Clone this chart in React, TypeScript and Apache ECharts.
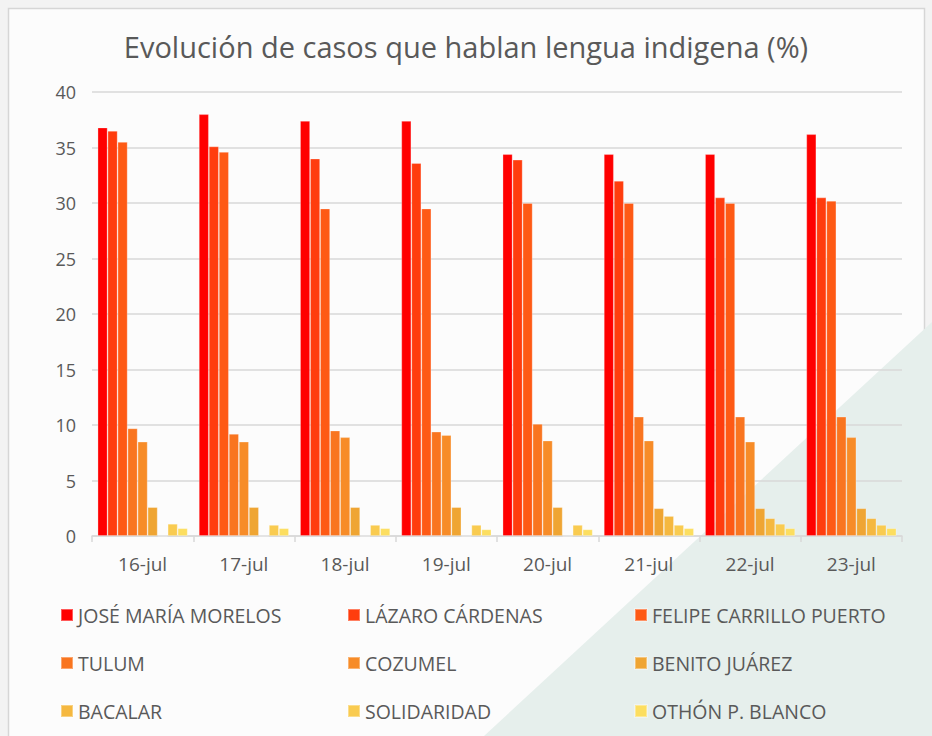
import React, { useEffect, useRef } from "react";
import * as echarts from "echarts";

const categories = ["16-jul", "17-jul", "18-jul", "19-jul", "20-jul", "21-jul", "22-jul", "23-jul"];
const seriesNames = [
  "JOSÉ MARÍA MORELOS",
  "LÁZARO CÁRDENAS",
  "FELIPE CARRILLO PUERTO",
  "TULUM",
  "COZUMEL",
  "BENITO JUÁREZ",
  "BACALAR",
  "SOLIDARIDAD",
  "OTHÓN P. BLANCO",
];
const colors = ["#FF0000", "#FF3D0E", "#FE5A15", "#F97520", "#F78C28", "#EFA533", "#F5B840", "#F9CB50", "#FCDE60"];

const joseMariaMorelos = [36.8, 38.0, 37.4, 37.4, 34.4, 34.4, 34.4, 36.2];
const lazaroCardenas = [36.5, 35.1, 34.0, 33.6, 33.9, 32.0, 30.5, 30.5];
const felipeCarrilloPuerto = [35.5, 34.6, 29.5, 29.5, 30.0, 30.0, 30.0, 30.2];
const tulum = [9.7, 9.2, 9.5, 9.4, 10.1, 10.75, 10.75, 10.75];
const cozumel = [8.5, 8.5, 8.9, 9.1, 8.6, 8.6, 8.5, 8.9];
const benitoJuarez = [2.6, 2.6, 2.6, 2.6, 2.6, 2.5, 2.5, 2.5];
const bacalar = [0, 0, 0, 0, 0, 1.8, 1.6, 1.6];
const solidaridad = [1.1, 1.0, 1.0, 1.0, 1.0, 1.0, 1.1, 1.0];
const othonPBlanco = [0.7, 0.7, 0.7, 0.6, 0.6, 0.7, 0.7, 0.7];

const allValues = [
  joseMariaMorelos,
  lazaroCardenas,
  felipeCarrilloPuerto,
  tulum,
  cozumel,
  benitoJuarez,
  bacalar,
  solidaridad,
  othonPBlanco,
];

const yTicks = [0, 5, 10, 15, 20, 25, 30, 35, 40];

const FONT = "'Open Sans', 'Liberation Sans', sans-serif";
const TEXT = "#595959";

export default function App() {
  const ref = useRef<HTMLDivElement>(null);
  useEffect(() => {
    if (!ref.current) return;
    const chart = echarts.init(ref.current, undefined, { renderer: "svg" });
    const legendCols = [0, 1, 2].map((c) => ({
      orient: "vertical" as const,
      left: [55, 342, 629][c],
      top: 598,
      itemWidth: 12,
      itemHeight: 12,
      itemGap: 24,
      icon: "rect",
      data: [seriesNames[c], seriesNames[c + 3], seriesNames[c + 6]],
      textStyle: { fontFamily: FONT, fontSize: 19.5, color: TEXT, lineHeight: 24 },
    }));
    chart.setOption({
      animation: false,
      backgroundColor: "#f3f3f3",
      graphic: [
        {
          type: "rect",
          z: -10,
          silent: true,
          shape: { x: 8.5, y: 8.5, width: 916, height: 740 },
          style: { fill: "#fcfcfc", stroke: "#d6d6d6", lineWidth: 1.5 },
        },
        {
          type: "polygon",
          z: -9,
          silent: true,
          shape: { points: [[932, 322], [932, 736], [484, 736]] },
          style: { fill: "#e6efec" },
        },
      ],
      title: {
        text: "Evolución de casos que hablan lengua indigena (%)",
        left: "center",
        top: 27,
        textStyle: { fontFamily: FONT, fontSize: 29, fontWeight: "normal", color: TEXT },
      },
      legend: legendCols,
      grid: { left: 92, right: 30, top: 92, bottom: 200 },
      xAxis: {
        type: "category",
        data: categories,
        axisLine: { lineStyle: { color: "#d9d9d9", width: 1.5 } },
        axisTick: { show: true, length: 6, lineStyle: { color: "#d9d9d9", width: 1.5 } },
        axisLabel: { fontFamily: FONT, fontSize: 19, color: TEXT, margin: 18 },
      },
      yAxis: {
        type: "value",
        min: yTicks[0],
        max: yTicks[yTicks.length - 1],
        interval: 5,
        axisLine: { show: false },
        axisTick: { show: false },
        axisLabel: { fontFamily: FONT, fontSize: 18, color: TEXT, margin: 16 },
        splitLine: { lineStyle: { color: "#d9d9d9", width: 1.5 } },
      },
      series: seriesNames.map((name, i) => ({
        type: "bar",
        name,
        data: allValues[i],
        barGap: "0%",
        barCategoryGap: "11%",
        itemStyle: { color: colors[i], borderColor: "rgba(255,255,255,0.35)", borderWidth: 0.8 },
      })),
    });
    return () => chart.dispose();
  }, []);
  return (
    <div
      ref={ref}
      style={{ position: "fixed", left: 0, top: 0, width: 932, height: 736 }}
    />
  );
}
